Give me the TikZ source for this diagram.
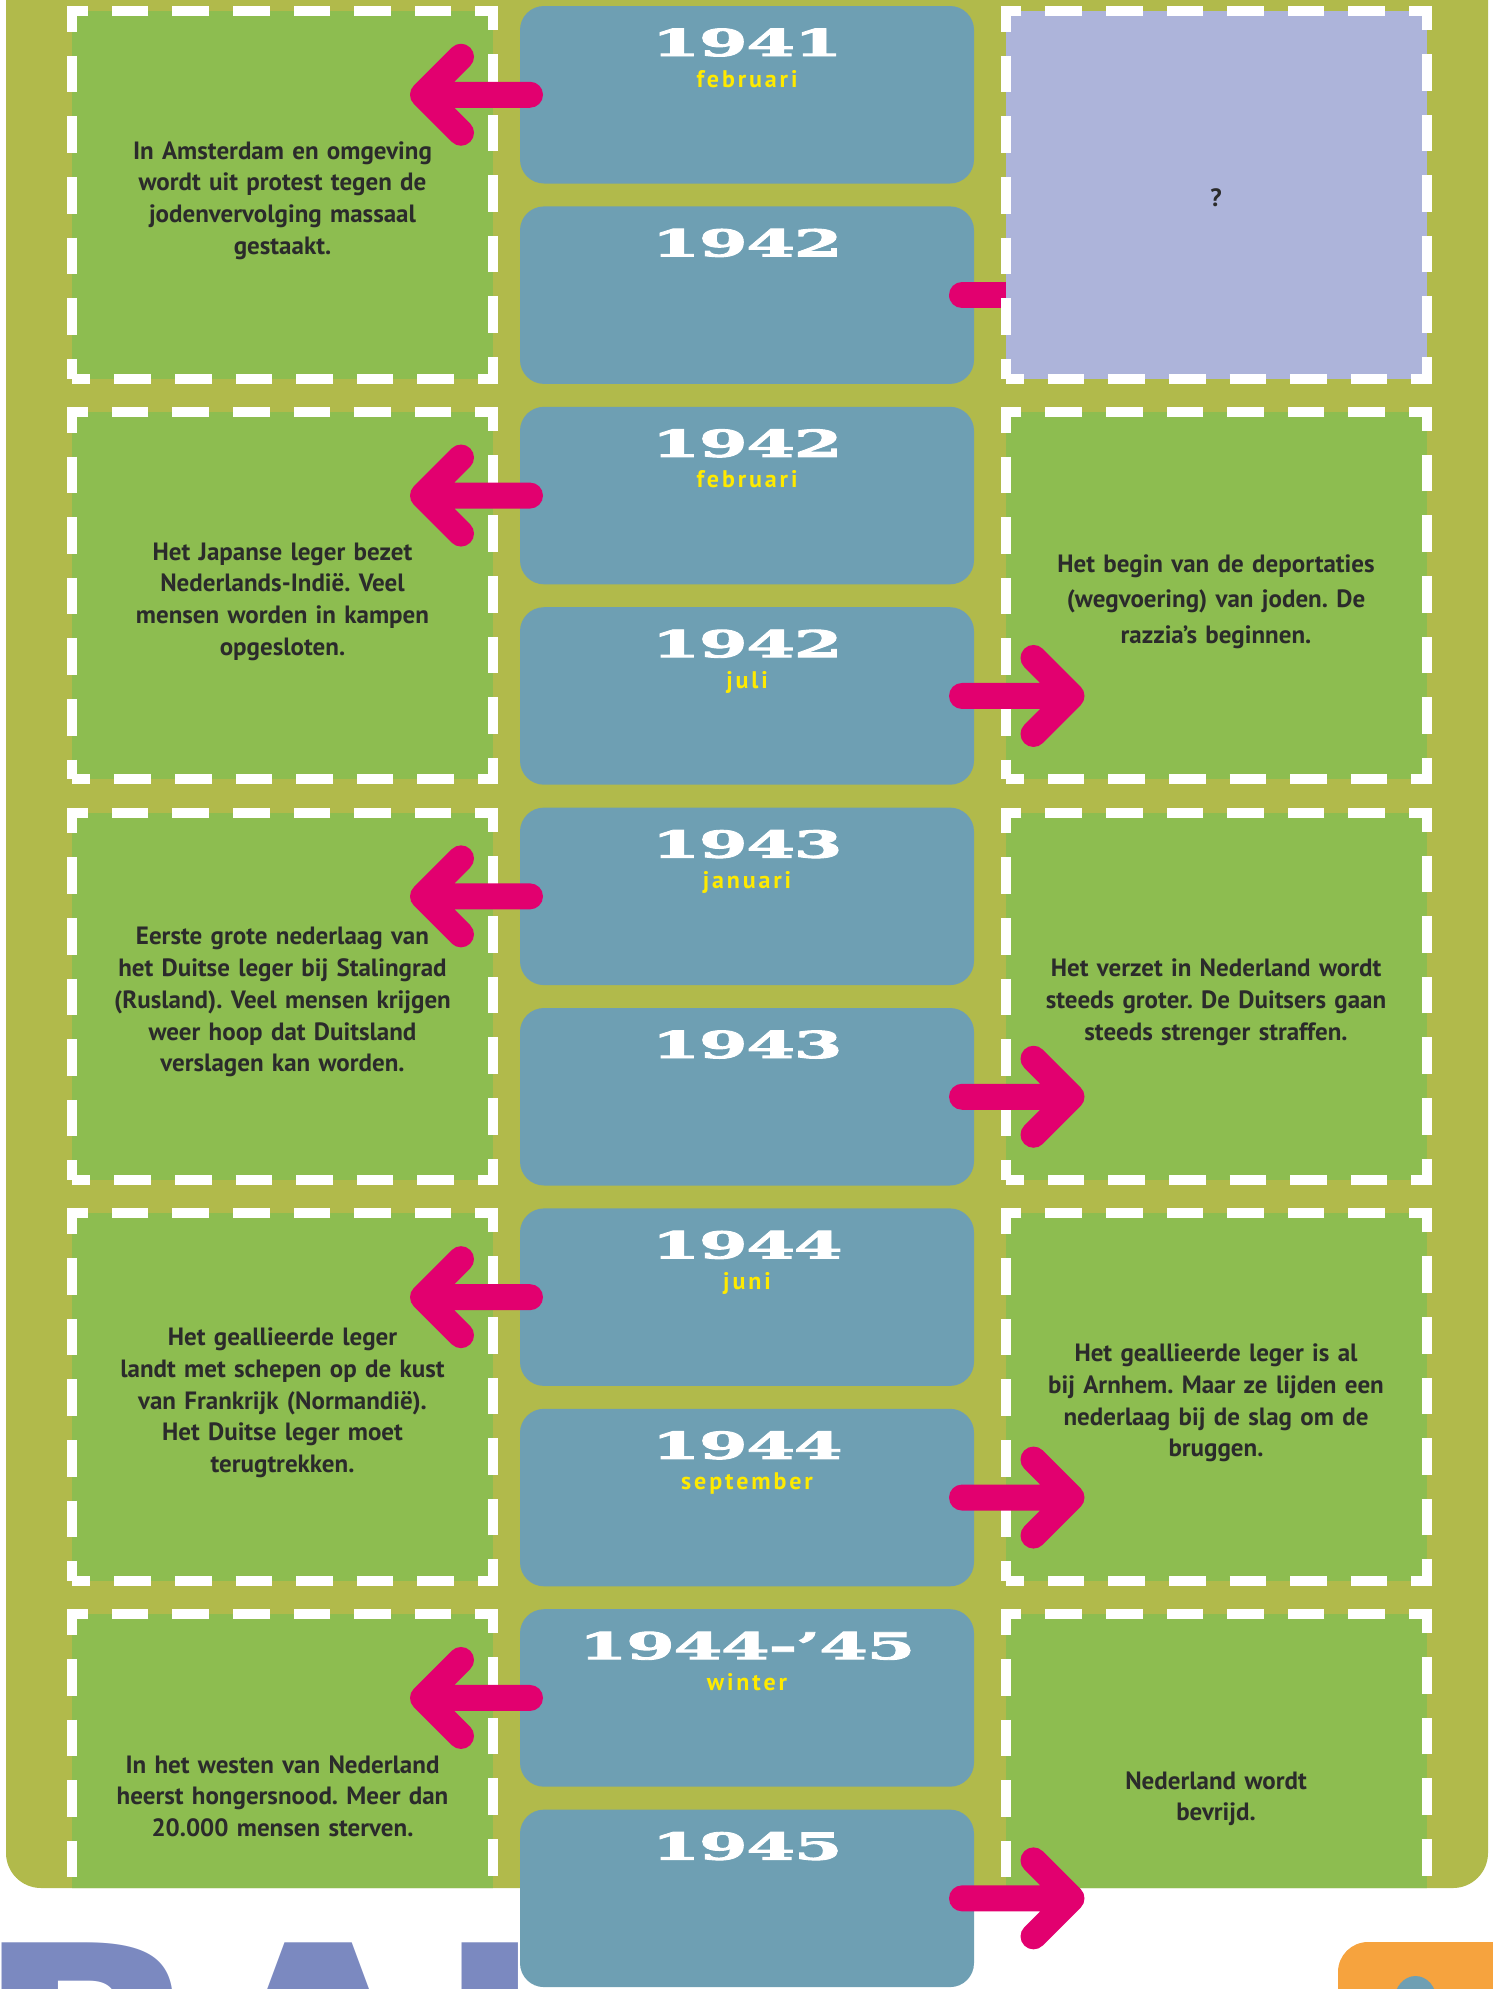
\documentclass[tikz,border=0pt]{standalone}
\usepackage{fontspec}
\setmainfont{PT Sans}
\newfontfamily\jaarfont{DejaVu Serif}[FakeStretch=1.9, FakeBold=2.5, LetterSpace=-4]
\newfontfamily\maandfont{PT Sans}[LetterSpace=12]
\newfontfamily\grootfont{DejaVu Sans}
\usetikzlibrary{positioning}

\definecolor{olijf}{HTML}{B1BA4B}
\definecolor{groen}{HTML}{8DBD50}
\definecolor{blauw}{HTML}{6E9FB3}
\definecolor{lila}{HTML}{ADB4DA}
\definecolor{roze}{HTML}{E2006F}
\definecolor{geel}{HTML}{FFEA00}
\definecolor{tekst}{HTML}{2B2B2B}
\definecolor{paars}{HTML}{7B89C0}
\definecolor{oranje}{HTML}{F6A33E}

\newcommand\vakkop{31pt}

\begin{document}
\begin{tikzpicture}[%
		x=1pt, y=-1pt,
		node distance=22.9pt,
		vak/.style={%
			rectangle,
			minimum width=421pt,
			minimum height=367.5pt,
			inner sep=0pt, outer sep=0pt,
			fill=groen,
			draw=white,
			line width=10pt,
			dash pattern=on 36.6pt off 24pt,
			dash phase=18.3pt,
			text width=400pt,
			align=center,
			text=tekst,
			font=\fontsize{25pt}{31.7pt}\selectfont\bfseries\frenchspacing,
			execute at begin node={\rule{0pt}{\vakkop}},
			execute at end node={\rule[-7pt]{0pt}{7pt}}
		},
		onderste/.style={/utils/exec={\renewcommand\vakkop{21pt}}},
		datum/.style={%
			rectangle,
			rounded corners=24pt,
			minimum width=454pt,
			minimum height=177.5pt,
			inner sep=0pt, outer sep=0pt,
			fill=blauw
		},
		jaar/.style={anchor=base, inner sep=0pt, text=white,
			font=\jaarfont\bfseries\fontsize{37pt}{40pt}\selectfont},
		maand/.style={anchor=base, inner sep=0pt, text=geel,
			font=\maandfont\bfseries\fontsize{24pt}{28pt}\selectfont},
		pijl/.style={draw=roze, line width=26pt, line cap=round, line join=round}
		]
		\useasboundingbox (0,0) rectangle (1493,1989);
		\clip (0,0) rectangle (1493,1989);
		
		\node[anchor=base west, inner sep=0pt, text=paars,
			font=\grootfont\bfseries\fontsize{300pt}{300pt}\selectfont] (woord) at (-26,2161) {BAL};
		\fill[oranje, rounded corners=30pt] (1338,1942) rectangle (1560,2100);
		\fill[blauw] (1415.5,2000) ellipse [x radius=21pt, y radius=24pt];
		
		\fill[olijf, rounded corners=35pt] (6,-60) rectangle (1488,1888);
		
		\begin{scope}
		\clip[rounded corners=35pt] (6,-60) rectangle (1488,1888);
		\node[vak] (staking) at (282.5,194.75)        {In Amsterdam en omgeving\\wordt uit protest tegen de\\jodenvervolging massaal\\gestaakt.};
		\node[vak, below=33.3pt of staking] (indie)      {Het Japanse leger bezet\\Nederlands-Indië. Veel\\mensen worden in kampen\\opgesloten.};
		\node[vak, below=33.3pt of indie] (stalingrad)   {Eerste grote nederlaag van\\het Duitse leger bij Stalingrad\\(Rusland). Veel mensen krijgen\\weer hoop dat Duitsland\\verslagen kan worden.};
		\node[vak, below=33.3pt of stalingrad] (normandie) {Het geallieerde leger\\landt met schepen op de kust\\van Frankrijk (Normandië).\\Het Duitse leger moet\\terugtrekken.};
		\node[vak, onderste, below=33.3pt of normandie] (honger) {In het westen van Nederland\\heerst hongersnood. Meer dan\\20.000 mensen sterven.};
		
		\node[vak, font=\fontsize{25pt}{35.5pt}\selectfont\bfseries\frenchspacing] (razzia) at (1216,595.55) {Het begin van de deportaties\\(wegvoering) van joden. De\\razzia’s beginnen.};
		\node[vak, below=33.3pt of razzia] (verzet)      {Het verzet in Nederland wordt\\steeds groter. De Duitsers gaan\\steeds strenger straffen.};
		\node[vak, below=33.3pt of verzet] (arnhem)      {Het geallieerde leger is al\\bij Arnhem. Maar ze lijden een\\nederlaag bij de slag om de\\bruggen.};
		\node[vak, onderste, below=33.3pt of arnhem] (bevrijd) {Nederland wordt\\bevrijd.};
		\end{scope}
		
		\node[datum] (d41feb) at (747,94.75) {};
		\node[datum, below=of d41feb] (d42)    {};
		\node[datum, below=of d42]    (d42feb) {};
		\node[datum, below=of d42feb] (d42jul) {};
		\node[datum, below=of d42jul] (d43jan) {};
		\node[datum, below=of d43jan] (d43)    {};
		\node[datum, below=of d43]    (d44jun) {};
		\node[datum, below=of d44jun] (d44sep) {};
		\node[datum, below=of d44sep] (d4445)  {};
		\node[datum, below=of d4445]  (d45)    {};
		
		\foreach \naam/\jaartal/\maandnaam in {d41feb/1941/februari, d42/1942/{}, d42feb/1942/februari,
			d42jul/1942/juli, d43jan/1943/januari, d43/1943/{}, d44jun/1944/juni,
			d44sep/1944/september, d4445/1944-’45/winter, d45/1945/{}}
		{
			\node[jaar]  (\naam-j) at ([yshift=-50pt]\naam.north) {\jaartal};
			\node[maand] (\naam-m) at ([yshift=-81pt]\naam.north) {\maandnaam};
		}
		
		\draw[pijl] ([xshift=-12pt]d42.east) -- (d42.east -| razzia.west);
		\node[vak, fill=lila, above=33.3pt of razzia] (vraag) {?};
		
		\foreach \d/\g in {d41feb/staking, d42feb/indie, d43jan/stalingrad, d44jun/normandie, d4445/honger}
			\draw[pijl] ([xshift=10pt]\d.west) -- ([xshift=-70pt]\d.west -| \g.east) coordinate (tip)
				++(38,-38) -- (tip) -- ++(38,38);
		\foreach \d/\g in {d42jul/razzia, d43/verzet, d44sep/arnhem, d45/bevrijd}
			\draw[pijl] ([xshift=-12pt]\d.east) -- ([xshift=66pt]\d.east -| \g.west) coordinate (tip)
				++(-38,-38) -- (tip) -- ++(-38,38);
\end{tikzpicture}
\end{document}
